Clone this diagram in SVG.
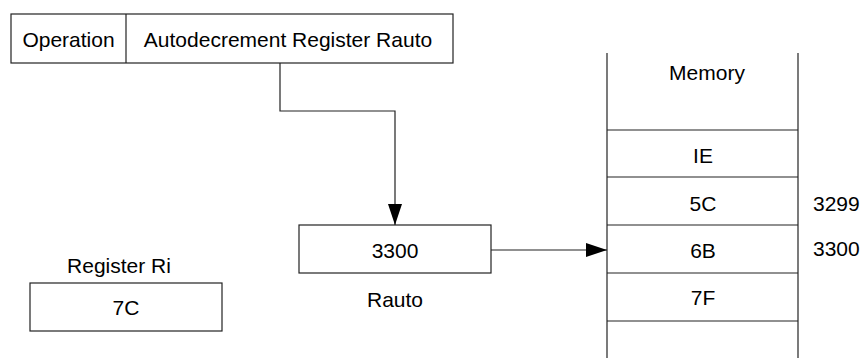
<svg xmlns="http://www.w3.org/2000/svg" width="862" height="358" viewBox="0 0 862 358">
  <style>
    .box { fill: #ffffff; stroke: #222222; stroke-width: 1.2; }
    .ln { fill: none; stroke: #222222; stroke-width: 1.2; }
    .t { font-family: "Liberation Sans", Arial, sans-serif; font-size: 21px; fill: #000000; dominant-baseline: central; }
    .c { text-anchor: middle; }
  </style>
  <defs>
    <marker id="arrow" viewBox="0 0 21 14" refX="21" refY="7" markerWidth="21" markerHeight="14" markerUnits="userSpaceOnUse" orient="auto">
      <path d="M0,0 L21,7 L0,14 Z" fill="#000000"/>
    </marker>
  </defs>

  <rect width="862" height="358" fill="#ffffff"/>

  <!-- instruction format -->
  <g id="instruction">
    <rect class="box" x="11" y="14" width="442" height="49"/>
    <line class="ln" x1="126" y1="14" x2="126" y2="63"/>
    <text class="t c" x="68.5" y="39">Operation</text>
    <text class="t c" x="288" y="39">Autodecrement Register Rauto</text>
  </g>

  <!-- register Rauto -->
  <g id="rauto">
    <rect class="box" x="299" y="225" width="192" height="48"/>
    <text class="t c" x="395" y="250">3300</text>
    <text class="t c" x="395" y="299">Rauto</text>
  </g>

  <!-- register Ri -->
  <g id="ri">
    <text class="t c" x="119" y="265">Register Ri</text>
    <rect class="box" x="30" y="283" width="192" height="48"/>
    <text class="t c" x="126" y="307">7C</text>
  </g>

  <!-- memory column -->
  <g id="memory">
    <line class="ln" x1="607" y1="53" x2="607" y2="358"/>
    <line class="ln" x1="798" y1="53" x2="798" y2="358"/>
    <line class="ln" x1="607" y1="130" x2="798" y2="130"/>
    <line class="ln" x1="607" y1="177" x2="798" y2="177"/>
    <line class="ln" x1="607" y1="225" x2="798" y2="225"/>
    <line class="ln" x1="607" y1="273" x2="798" y2="273"/>
    <line class="ln" x1="607" y1="321" x2="798" y2="321"/>
    <text class="t c" x="707" y="72">Memory</text>
    <text class="t c" x="703" y="155">IE</text>
    <text class="t c" x="703" y="203">5C</text>
    <text class="t c" x="703" y="250">6B</text>
    <text class="t c" x="703" y="297">7F</text>
    <text class="t" x="813" y="203">3299</text>
    <text class="t" x="813" y="248">3300</text>
  </g>

  <!-- connectors -->
  <g id="connectors">
    <polyline class="ln" points="280,63 280,111 395,111 395,225" marker-end="url(#arrow)"/>
    <line class="ln" x1="491" y1="250" x2="607" y2="250" marker-end="url(#arrow)"/>
  </g>
</svg>
